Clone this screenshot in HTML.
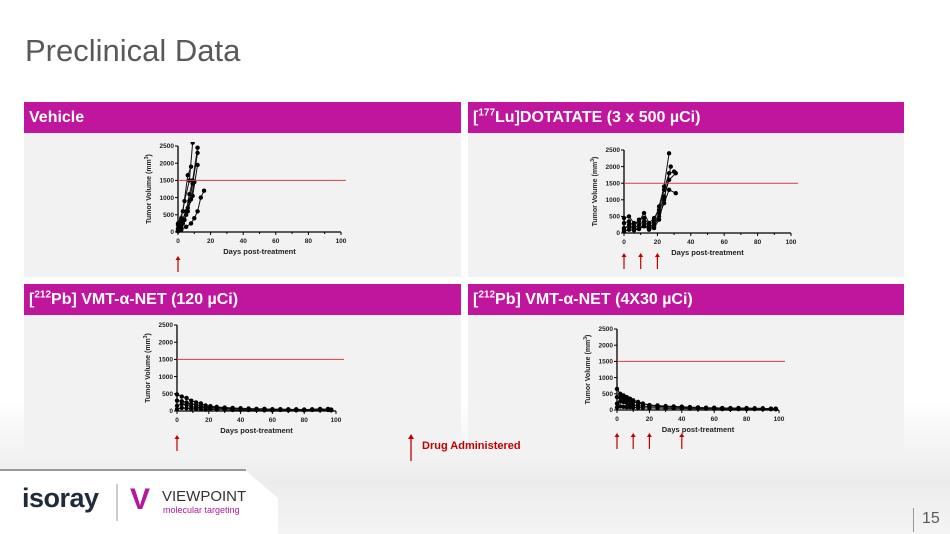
<!DOCTYPE html>
<html><head><meta charset="utf-8"><style>
body{margin:0;width:950px;height:534px;overflow:hidden;background:#fff;font-family:"Liberation Sans",sans-serif;position:relative}
.abs{position:absolute}
.hdr{position:absolute;height:31px;background:#c0159d;color:#fff;font-weight:bold;font-size:16px;line-height:31px;padding-left:5px;box-sizing:border-box}
.pnl{position:absolute;background:#f2f2f2}
sup{font-size:10px;line-height:0}
</style></head><body>
<div class="abs" style="left:0;top:400px;width:950px;height:134px;background:linear-gradient(#fff,#ececec 60%,#f4f4f4)"></div>
<div class="abs" style="left:25px;top:33px;font-size:31px;color:#595959">Preclinical Data</div>

<div class="pnl" style="left:24px;top:133px;width:437px;height:144px"></div>
<div class="pnl" style="left:468px;top:133px;width:436px;height:144px"></div>
<div class="pnl" style="left:24px;top:315px;width:437px;height:142px"></div>
<div class="pnl" style="left:468px;top:315px;width:436px;height:142px"></div>

<div class="hdr" style="left:24px;top:102px;width:437px">Vehicle</div>
<div class="hdr" style="left:468px;top:102px;width:436px">[<sup>177</sup>Lu]DOTATATE (3 x 500 µCi)</div>
<div class="hdr" style="left:24px;top:284px;width:437px">[<sup>212</sup>Pb] VMT-α-NET (120 µCi)</div>
<div class="hdr" style="left:468px;top:284px;width:436px">[<sup>212</sup>Pb] VMT-α-NET (4X30 µCi)</div>

<svg id="charts" class="abs" style="left:0;top:0" width="950" height="534"></svg>

<div class="abs" style="left:0;top:470px;width:278px;height:64px;background:#fff;clip-path:polygon(0 0,245px 0,278px 28px,278px 64px,0 64px)"></div>
<div class="abs" style="left:0;top:469px;width:246px;height:2px;background:#999"></div>
<div class="abs" style="left:22px;top:483px;font-size:27px;font-weight:bold;color:#1f2a3a;letter-spacing:-0.5px">isoray</div>
<div class="abs" style="left:116px;top:484px;width:2px;height:37px;background:#ccc"></div>
<div class="abs" style="left:130px;top:485px;font-size:30px;font-weight:bold;color:#b3189c;line-height:30px">V</div>
<div class="abs" style="left:162px;top:489px;font-size:15px;color:#333;line-height:15px">VIEWPOINT</div>
<div class="abs" style="left:163px;top:505px;font-size:9px;color:#b3189c">molecular targeting</div>

<div class="abs" style="left:913px;top:508px;width:1px;height:24px;background:#999"></div>
<div class="abs" style="left:922px;top:510px;font-size:16px;color:#595959">15</div>

<div class="abs" style="left:422px;top:440px;font-size:11px;font-weight:bold;color:#c00000">Drug Administered</div>

<script>
const xTicks=[0,20,40,60,80,100];
const yTicks=[0,500,1000,1500,2000,2500];
const threshold=1500;
// Vehicle
const vehDays=[[0,2,5,7,9,12],[0,2,5,7,9,12],[0,3,6,8],[0,2,5,8,10,12,14,16],[0,2,4,7,9],[0,3,6,9,12],[0,2,4,6,8,10]];
const vehVals=[[100,300,600,1100,1500,2450],[50,200,500,900,1400,2300],[250,600,1650,1900],[20,60,150,250,400,600,1000,1200],[200,400,900,1500,2600],[80,250,700,1050,1950],[30,150,350,600,950,1450]];
const vehArrows=[0];
// Lu
const luDays=[[0,3,6,9,12,15,18,21,24,27,30],[0,3,6,9,12,15,18,21,24,27],[0,3,6,9,12,15,18,21,24,27,31],[0,3,6,9,12,15,18,21,24,28],[0,3,6,9,12,15,18,21,24,27,31]];
const luVals=[[450,500,300,350,600,300,450,700,1300,1800,1850],[300,350,200,400,450,250,350,800,1400,2400],[150,200,100,150,250,150,200,500,900,1300,1200],[50,100,80,120,200,100,150,400,1000,2000],[100,250,150,250,350,200,250,600,1100,1600,1800]];
const luArrows=[0,10,20];
// Pb 120
const pbDays=[[0,3,6,9,12,15,18,21,25,30,35,40,45,50,55,60,65,70,75,80,85,90,95,97],[0,3,6,9,12,15,18,21,25,30,35,40,45,50,55,60,65,70,75,80,85,90,95,97],[0,3,6,9,12,15,18,21,25,30,35,40,45,50,55,60,65,70,75,80,85,90,95,97],[0,3,6,9,12,15,18,21,25,30,35,40,45,50,55,60,65,70,75,80,85,90,95,97]];
const pbVals=[[480,420,380,300,250,220,160,140,120,100,90,70,70,60,60,50,50,40,50,40,50,60,50,40],[300,280,250,200,180,150,130,110,100,90,80,80,70,60,60,50,50,50,40,40,40,40,60,30],[150,200,180,120,110,100,90,80,80,70,60,60,50,50,40,40,40,40,30,30,40,40,40,30],[50,90,80,60,60,50,40,50,40,40,30,30,30,30,20,20,30,20,20,20,30,30,30,20]];
const pbArrows=[0];
// Pb 4x30
const p4Days=[[0,2,4,6,8,10,13,16,20,25,30,35,40,45,50,55,60,65,70,75,80,85,90,95,98],[0,2,4,6,8,10,13,16,20,25,30,35,40,45,50,55,60,65,70,75,80,85,90,95,98],[0,2,4,6,8,10,13,16,20,25,30,35,40,45,50,55,60,65,70,75,80,85,90,95,98],[0,2,4,6,8,10,13,16,20,25,30,35,40,45,50,55,60,65,70,75,80,85,90,95,98]];
const p4Vals=[[650,500,450,400,350,300,250,200,150,140,120,110,100,90,80,70,70,60,60,60,60,50,50,40,40],[400,380,350,320,300,250,220,180,150,130,110,100,100,80,70,60,60,60,50,60,50,50,50,40,40],[200,260,250,220,180,150,140,120,100,100,90,80,80,70,60,50,50,50,40,40,40,40,40,30,30],[80,110,100,90,90,80,70,70,60,60,50,50,50,40,40,40,40,30,30,30,30,30,30,30,20]];
const p4Arrows=[0,10,20,40];

const svg=document.getElementById('charts');
const NS='http://www.w3.org/2000/svg';
function mk(t,a,p){const e=document.createElementNS(NS,t);for(const k in a)e.setAttribute(k,a[k]);(p||svg).appendChild(e);return e;}
function chart(name,g,days,vals,arrows){
  const xs=d=>g.x0+(g.x1-g.x0)*d/100, ys=v=>g.y0-(g.y0-g.y1)*v/2500;
  const grp=mk('g',{});
  
  
  const ax=mk('path',{d:`M${g.x0} ${ys(2500)}V${g.y0}H${g.x1}`,stroke:'#000','stroke-width':1.3,fill:'none'},grp);
  
  
  xTicks.forEach(t=>{mk('line',{x1:xs(t),x2:xs(t),y1:g.y0,y2:g.y0+3,stroke:'#000'},grp);
    const tx=mk('text',{x:xs(t),y:g.y0+11,'font-size':6.5,'font-weight':'bold','text-anchor':'middle',fill:'#222'},grp);tx.textContent=t;
    
    });
  for(let t=10;t<100;t+=20)mk('line',{x1:xs(t),x2:xs(t),y1:g.y0,y2:g.y0+2,stroke:'#000'},grp);
  yTicks.forEach(t=>{mk('line',{x1:g.x0-3,x2:g.x0,y1:ys(t),y2:ys(t),stroke:'#000'},grp);
    const tx=mk('text',{x:g.x0-4,y:ys(t)+2.2,'font-size':6.5,'font-weight':'bold','text-anchor':'end',fill:'#222'},grp);tx.textContent=t;
    
    });
  const xl=mk('text',{x:(g.x0+g.x1)/2,y:g.y0+22,'font-size':7.5,'font-weight':'bold','text-anchor':'middle',fill:'#222'},grp);xl.textContent='Days post-treatment';
  
  
  const yc=(g.y0+ys(2500))/2, yx=g.x0-27;
  const yl=mk('text',{x:yx,y:yc,'font-size':7,'font-weight':'bold','text-anchor':'middle',fill:'#222',transform:`rotate(-90 ${yx} ${yc})`},grp);yl.innerHTML='Tumor Volume (mm<tspan dy="-3" font-size="5">3</tspan><tspan dy="3">)</tspan>';
  
  
  const cl=mk('clipPath',{id:'c'+name},grp);mk('rect',{x:g.x0-5,y:ys(2500)-4,width:g.x1-g.x0+10,height:g.y0-ys(2500)+8},cl);
  const sg=mk('g',{'clip-path':`url(#c${name})`},grp);
  days.forEach((ds,i)=>{const pts=ds.map((d,j)=>xs(d)+','+ys(vals[i][j])).join(' ');
    const pl=mk('polyline',{points:pts,fill:'none',stroke:'#111','stroke-width':1},sg);
    
    
    ds.forEach((d,j)=>{const c=mk('circle',{cx:xs(d),cy:ys(vals[i][j]),r:2.2,fill:'#000'},sg);
      
      });});
  const th=mk('line',{x1:g.x0,x2:g.rx,y1:ys(threshold),y2:ys(threshold),stroke:'#d04040','stroke-width':1},grp);
  
  
  arrows.forEach(d=>{const a=mk('g',{},grp);
    
    
    mk('line',{x1:xs(d),x2:xs(d),y1:g.ay+3,y2:g.ay+16,stroke:'#c00000','stroke-width':1.2},a);
    mk('path',{d:`M${xs(d)-2.5} ${g.ay+4}L${xs(d)} ${g.ay}L${xs(d)+2.5} ${g.ay+4}Z`,fill:'#c00000'},a);});
}
chart('vehicle-chart',{x0:178,x1:341,y0:232,y1:146,rx:346,ay:256},vehDays,vehVals,vehArrows);
chart('lu-chart',{x0:624,x1:791,y0:233,y1:150,rx:798,ay:253},luDays,luVals,luArrows);
chart('pb120-chart',{x0:177,x1:336,y0:411,y1:325,rx:344,ay:435},pbDays,pbVals,pbArrows);
chart('pb4x30-chart',{x0:617,x1:779,y0:410,y1:329,rx:785,ay:433},p4Days,p4Vals,p4Arrows);
const la=mk('g',{});


mk('line',{x1:411,x2:411,y1:438,y2:461,stroke:'#c00000','stroke-width':1.3},la);
mk('path',{d:'M408 439L411 434L414 439Z',fill:'#c00000'},la);
</script>
</body></html>
